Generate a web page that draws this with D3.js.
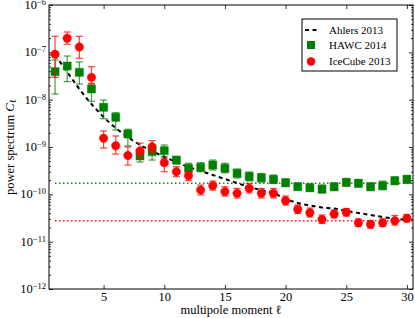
<!DOCTYPE html>
<html>
<head>
<meta charset="utf-8">
<script src="https://cdn.jsdelivr.net/npm/d3@7"></script>
<style>
body { margin: 0; background: #fff; }
text { font-family: "Liberation Serif", "Times New Roman", serif; fill: #000; }
</style>
</head>
<body>
<div id="chart"></div>
<script>
// multipole moments
var ell = [1, 2, 3, 4, 5, 6, 7, 8, 9, 10, 11, 12, 13, 14, 15, 16, 17, 18, 19, 20, 21, 22, 23, 24, 25, 26, 27, 28, 29, 30];

// HAWC 2014 (green squares) with error bar ends
var hawc = [3.90e-8, 5.14e-8, 3.78e-8, 1.68e-8, 6.90e-9, 4.24e-9, 1.88e-9, 6.46e-10, 7.95e-10, 8.36e-10, 5.31e-10, 3.55e-10, 3.72e-10, 4.16e-10, 3.55e-10, 2.78e-10, 2.38e-10, 2.24e-10, 2.07e-10, 1.76e-10, 1.45e-10, 1.38e-10, 1.29e-10, 1.45e-10, 1.79e-10, 1.71e-10, 1.45e-10, 1.52e-10, 1.94e-10, 2.07e-10];
var hawcHi = [6.89e-8, 8.36e-8, 6.25e-8, 2.22e-8, 9.84e-9, 5.30e-9, 2.37e-9, 9.08e-10, 1.01e-9, 1.10e-9, 6.24e-10, 4.52e-10, 4.66e-10, 5.31e-10, 4.52e-10, 3.43e-10, 2.96e-10, 2.75e-10, 2.56e-10, 2.11e-10, 1.73e-10, 1.65e-10, 1.57e-10, 1.73e-10, 2.16e-10, 2.06e-10, 1.73e-10, 1.91e-10, 2.32e-10, 2.50e-10];
var hawcLo = [1.32e-8, 2.40e-8, 2.14e-8, 9.23e-9, 3.96e-9, 2.29e-9, 1.05e-9, 4.82e-10, 5.31e-10, 6.24e-10, 4.38e-10, 2.78e-10, 3.01e-10, 3.27e-10, 2.86e-10, 2.21e-10, 1.91e-10, 1.82e-10, 1.69e-10, 1.46e-10, 1.23e-10, 1.15e-10, 1.07e-10, 1.20e-10, 1.50e-10, 1.43e-10, 1.20e-10, 1.26e-10, 1.61e-10, 1.73e-10];

// IceCube 2013 (red circles)
var ice = [9.08e-8, 1.98e-7, 1.30e-7, 2.96e-8, 1.53e-9, 1.06e-9, 6.61e-10, 8.22e-10, 1.01e-9, 4.66e-10, 3.01e-10, 2.47e-10, 1.23e-10, 1.52e-10, 1.14e-10, 1.05e-10, 1.34e-10, 1.05e-10, 1.05e-10, 7.33e-11, 4.82e-11, 4.09e-11, 2.96e-11, 3.84e-11, 4.17e-11, 2.51e-11, 2.33e-11, 2.51e-11, 2.77e-11, 3.11e-11];
var iceHi = [2.18e-7, 2.69e-7, 2.18e-7, 4.97e-8, 2.18e-9, 1.71e-9, 1.00e-9, 1.21e-9, 1.36e-9, 5.77e-10, 3.84e-10, 3.01e-10, 1.57e-10, 1.91e-10, 1.45e-10, 1.33e-10, 1.69e-10, 1.33e-10, 1.33e-10, 9.20e-11, 5.95e-11, 5.14e-11, 3.66e-11, 4.67e-11, 5.01e-11, 3.01e-11, 2.80e-11, 3.01e-11, 3.57e-11, 3.75e-11];
var iceLo = [2.96e-8, 1.48e-7, 7.48e-8, 2.14e-8, 9.53e-10, 7.11e-10, 4.16e-10, 5.85e-10, 7.57e-10, 3.01e-10, 2.36e-10, 1.94e-10, 9.68e-11, 1.23e-10, 9.20e-11, 8.36e-11, 1.07e-10, 8.36e-11, 8.36e-11, 5.95e-11, 3.94e-11, 3.32e-11, 2.42e-11, 3.16e-11, 3.48e-11, 2.09e-11, 1.94e-11, 2.09e-11, 2.25e-11, 2.60e-11];

// Ahlers 2013 model (dashed)
var ahlers = [8.78e-8, 3.84e-8, 1.68e-8, 8.09e-9, 4.31e-9, 2.52e-9, 1.63e-9, 1.10e-9, 8.22e-10, 6.15e-10, 4.82e-10, 3.78e-10, 3.11e-10, 2.56e-10, 2.11e-10, 1.73e-10, 1.43e-10, 1.23e-10, 1.07e-10, 7.96e-11, 6.56e-11, 5.81e-11, 5.26e-11, 5.01e-11, 4.45e-11, 4.03e-11, 3.66e-11, 3.32e-11, 3.08e-11, 2.87e-11];

// flat noise levels (dotted)
var hawcLevel = 1.71e-10;
var iceLevel = 2.77e-11;

var xTicks = [5, 10, 15, 20, 25, 30];
var yMajor = [1e-12, 1e-11, 1e-10, 1e-9, 1e-8, 1e-7, 1e-6];
var yLabels = ["\u221212", "\u221211", "\u221210", "\u22129", "\u22128", "\u22127", "\u22126"];
var legendNames = ["Ahlers 2013", "HAWC 2014", "IceCube 2013"];

var green = "#008000", red = "#ff0000";

var svg = d3.select("#chart").append("svg").attr("width", 415).attr("height", 318);

var x = d3.scaleLinear().domain([0.5, 30.5]).range([49, 413]);
var y = d3.scaleLog().domain([1e-12, 1e-6]).range([289, 5]);

var yMinor = [];
yMajor.slice(0, -1).forEach(function(d) {
    for (var k = 2; k < 10; k++) yMinor.push(d * k);
});

// axes, ticks pointing inward
var gx = svg.append("g").attr("transform", "translate(0,289)")
    .call(d3.axisBottom(x).tickValues(xTicks).tickSizeInner(-4).tickSizeOuter(0).tickPadding(3.5));
gx.selectAll("text").style("font-size", "12.5px").style("font-family", "Liberation Serif, serif");

svg.append("g").attr("transform", "translate(0,5)")
    .call(d3.axisTop(x).tickValues(xTicks).tickSizeInner(-4).tickSizeOuter(0).tickFormat(""));

var gy = svg.append("g").attr("transform", "translate(49,0)")
    .call(d3.axisLeft(y).tickValues(yMajor).tickSizeInner(-4).tickSizeOuter(0).tickPadding(3).tickFormat(""));
gy.selectAll(".tick text").each(function(d, i) {
    var t = d3.select(this).attr("dy", "0.35em").style("font-family", "Liberation Serif, serif");
    t.append("tspan").style("font-size", "12.5px").text("10");
    t.append("tspan").style("font-size", "8.5px").attr("dy", "-4").text(yLabels[i]);
});
svg.append("g").attr("transform", "translate(49,0)")
    .call(d3.axisLeft(y).tickValues(yMinor).tickSizeInner(-2).tickSizeOuter(0).tickFormat(""));
svg.append("g").attr("transform", "translate(413,0)")
    .call(d3.axisRight(y).tickValues(yMajor).tickSizeInner(-4).tickSizeOuter(0).tickFormat(""));
svg.append("g").attr("transform", "translate(413,0)")
    .call(d3.axisRight(y).tickValues(yMinor).tickSizeInner(-2).tickSizeOuter(0).tickFormat(""));

svg.selectAll(".domain").remove();
svg.selectAll(".tick line").attr("stroke", "#000").attr("stroke-width", 0.8);

// dotted noise levels
svg.append("line").attr("x1", x(1)).attr("x2", x(30.5)).attr("y1", y(hawcLevel)).attr("y2", y(hawcLevel))
    .attr("stroke", green).attr("stroke-width", 1.4).attr("stroke-dasharray", "1.4,2.6");
svg.append("line").attr("x1", x(1)).attr("x2", x(30.5)).attr("y1", y(iceLevel)).attr("y2", y(iceLevel))
    .attr("stroke", red).attr("stroke-width", 1.4).attr("stroke-dasharray", "1.4,2.6");

// Ahlers model
var line = d3.line().x(function(d, i) { return x(ell[i]); }).y(function(d) { return y(d); }).curve(d3.curveMonotoneX);
svg.append("path").datum(ahlers).attr("d", line).attr("fill", "none")
    .attr("stroke", "#000").attr("stroke-width", 2).attr("stroke-dasharray", "4,3.5");

function errorBars(vals, lo, hi, color) {
    var g = svg.append("g").attr("stroke", color).attr("stroke-opacity", 0.75).attr("stroke-width", 1.2);
    ell.forEach(function(l, i) {
        var cx = x(l);
        g.append("line").attr("x1", cx).attr("x2", cx).attr("y1", y(lo[i])).attr("y2", y(hi[i]));
        g.append("line").attr("x1", cx - 3.5).attr("x2", cx + 3.5).attr("y1", y(lo[i])).attr("y2", y(lo[i]));
        g.append("line").attr("x1", cx - 3.5).attr("x2", cx + 3.5).attr("y1", y(hi[i])).attr("y2", y(hi[i]));
    });
}

// HAWC
errorBars(hawc, hawcLo, hawcHi, green);
svg.append("g").selectAll("rect").data(hawc).enter().append("rect")
    .attr("x", function(d, i) { return x(ell[i]) - 4; })
    .attr("y", function(d) { return y(d) - 4; })
    .attr("width", 8).attr("height", 8)
    .attr("fill", green).attr("stroke", green).attr("stroke-opacity", 0.5).attr("stroke-width", 1);

// IceCube
errorBars(ice, iceLo, iceHi, red);
svg.append("g").selectAll("circle").data(ice).enter().append("circle")
    .attr("cx", function(d, i) { return x(ell[i]); })
    .attr("cy", function(d) { return y(d); })
    .attr("r", 4.2)
    .attr("fill", red).attr("stroke", red).attr("stroke-opacity", 0.5).attr("stroke-width", 1);

// frame
svg.append("rect").attr("x", 49).attr("y", 5).attr("width", 364).attr("height", 284)
    .attr("fill", "none").attr("stroke", "#000").attr("stroke-width", 1);

// axis labels
svg.append("text").attr("x", 231).attr("y", 314).attr("text-anchor", "middle")
    .style("font-size", "12.5px").text("multipole moment \u2113");
var yl = svg.append("text").attr("transform", "translate(14,147) rotate(-90)").attr("text-anchor", "middle")
    .style("font-size", "12.5px");
yl.append("tspan").text("power spectrum ");
yl.append("tspan").style("font-style", "italic").text("C");
yl.append("tspan").style("font-size", "9px").attr("dy", "2").text("\u2113");

// legend
var lg = svg.append("g");
lg.append("rect").attr("x", 302).attr("y", 19).attr("width", 95).attr("height", 52)
    .attr("fill", "#fff").attr("stroke", "#000").attr("stroke-width", 1);
var rows = [30, 45, 61.5];
lg.append("line").attr("x1", 305).attr("x2", 318).attr("y1", rows[0]).attr("y2", rows[0])
    .attr("stroke", "#000").attr("stroke-width", 2).attr("stroke-dasharray", "4,3.5");
lg.append("rect").attr("x", 307).attr("y", rows[1] - 4).attr("width", 8).attr("height", 8).attr("fill", green);
lg.append("circle").attr("cx", 311).attr("cy", rows[2]).attr("r", 4.2).attr("fill", red);
lg.selectAll("text.lbl").data(legendNames).enter().append("text").attr("class", "lbl")
    .attr("x", 329).attr("y", function(d, i) { return rows[i]; }).attr("dy", "0.35em")
    .style("font-size", "11px").text(function(d) { return d; });
</script>
</body>
</html>
